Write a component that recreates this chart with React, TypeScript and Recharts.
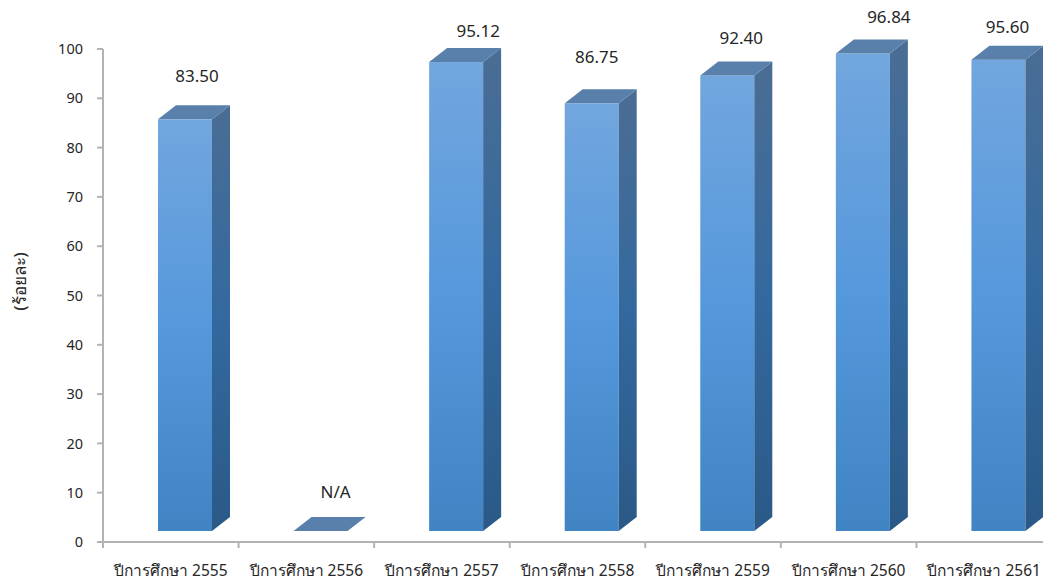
import React from 'react';
import { BarChart, Bar, XAxis, YAxis, LabelList } from 'recharts';

const years = ['ปีการศึกษา 2555', 'ปีการศึกษา 2556', 'ปีการศึกษา 2557', 'ปีการศึกษา 2558', 'ปีการศึกษา 2559', 'ปีการศึกษา 2560', 'ปีการศึกษา 2561'];
const percents: (number | null)[] = [83.5, null, 95.12, 86.75, 92.4, 96.84, 95.6];
const valueLabels = ['83.50', 'N/A', '95.12', '86.75', '92.40', '96.84', '95.60'];
const yTicks = [0, 10, 20, 30, 40, 50, 60, 70, 80, 90, 100];

// hand placed labels in the original, so each one has its own nudge
const labelDx = [12, 15, 22, 5, 14, 26, 9];
const labelDy = [43, 39, 31, 46, 37, 37, 33];

const data = years.map((year, i) => ({ year, value: percents[i] ?? 0, label: valueLabels[i] }));

const FONT = '"Noto Sans", Tahoma, sans-serif';
const AXIS_COLOR = '#b3b3b3';
const BAND = 949 / years.length;
const FLOOR_LIFT = 11; // bars stand above the axis line
const SHIFT_X = 14;
const DEPTH_X = 18;
const DEPTH_Y = 14;

const Bar3D = (props: any) => {
  const { x, y, width, height } = props;
  const left = x + SHIFT_X;
  const right = left + width;
  const top = y - FLOOR_LIFT;
  const bottom = top + height;
  return (
    <g>
      {height > 0 && <rect x={left} y={top} width={width} height={height} fill="url(#front)" />}
      {height > 0 && (
        <polygon
          points={`${right},${top} ${right + DEPTH_X},${top - DEPTH_Y} ${right + DEPTH_X},${bottom - DEPTH_Y} ${right},${bottom}`}
          fill="url(#side)"
        />
      )}
      <polygon
        points={`${left},${top} ${left + DEPTH_X},${top - DEPTH_Y} ${right + DEPTH_X},${top - DEPTH_Y} ${right},${top}`}
        fill="#5880ab"
      />
    </g>
  );
};

const ValueLabel = (props: any) => {
  const { x, y, width, index, value } = props;
  return (
    <text
      x={x + width / 2 + SHIFT_X + labelDx[index]}
      y={y - FLOOR_LIFT - labelDy[index] + 6}
      textAnchor="middle"
      fontFamily={FONT}
      fontSize={17}
      fill="#262626"
    >
      {value}
    </text>
  );
};

const YearTick = (props: any) => {
  const { x, y, payload } = props;
  const edge = x - BAND / 2;
  return (
    <g>
      <line x1={edge} y1={542} x2={edge} y2={548} stroke={AXIS_COLOR} strokeWidth={2} />
      <text x={x} y={y + 26} textAnchor="middle" fontFamily={FONT} fontSize={15.5} fill="#262626">
        {payload.value}
      </text>
    </g>
  );
};

export default function App() {
  return (
    <div style={{ position: 'absolute', left: 0, top: 0, width: 1043, height: 582, overflow: 'hidden', background: '#fff' }}>
      <BarChart
        width={1060}
        height={582}
        data={data}
        margin={{ top: 49, right: 8, bottom: 0, left: 0 }}
        barSize={54}
      >
        <defs>
          <linearGradient id="front" x1="0" y1="0" x2="0" y2="1">
            <stop offset="0%" stopColor="#72a6de" />
            <stop offset="50%" stopColor="#5598dc" />
            <stop offset="100%" stopColor="#4084c4" />
          </linearGradient>
          <linearGradient id="side" x1="0" y1="0" x2="0" y2="1">
            <stop offset="0%" stopColor="#4a6d94" />
            <stop offset="50%" stopColor="#33699f" />
            <stop offset="100%" stopColor="#2a5987" />
          </linearGradient>
        </defs>
        <XAxis
          dataKey="year"
          height={40}
          interval={0}
          tickLine={false}
          axisLine={{ stroke: AXIS_COLOR, strokeWidth: 2 }}
          tick={<YearTick />}
        />
        <YAxis
          width={103}
          domain={[0, 100]}
          ticks={yTicks}
          interval={0}
          tickSize={6}
          tickMargin={14}
          axisLine={{ stroke: AXIS_COLOR, strokeWidth: 2 }}
          tickLine={{ stroke: AXIS_COLOR, strokeWidth: 2 }}
          tick={{ fontFamily: FONT, fontSize: 14.5, fill: '#262626' }}
          label={{
            value: '(ร้อยละ)',
            angle: -90,
            position: 'insideLeft',
            offset: 20,
            dy: -14,
            style: { fontFamily: FONT, fontSize: 17, fontWeight: 500, fill: '#262626', textAnchor: 'middle' },
          }}
        />
        <Bar dataKey="value" isAnimationActive={false} shape={<Bar3D />}>
          <LabelList dataKey="label" content={<ValueLabel />} />
        </Bar>
      </BarChart>
    </div>
  );
}
